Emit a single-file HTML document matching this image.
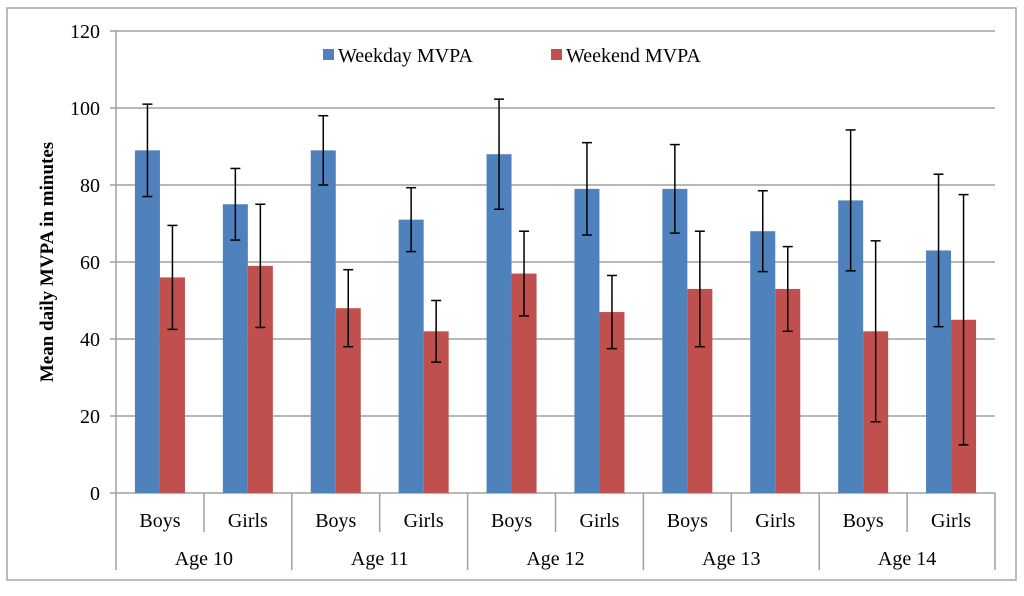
<!DOCTYPE html>
<html><head><meta charset="utf-8"><style>
body{margin:0;background:#fff}
svg text{font-family:"Liberation Serif","Times New Roman",serif;fill:#000}
</style></head><body>
<svg id="c" width="1024" height="591" xmlns="http://www.w3.org/2000/svg">
<rect x="7" y="8" width="1009" height="572" fill="#fff" stroke="#a6a6a6" stroke-width="1.5"/>
<g id="grid"></g><g id="bars"></g><g id="axes"></g>
<text x="53" y="262" font-size="19" font-weight="bold" text-anchor="middle" transform="rotate(-90 53 262)">Mean daily MVPA in minutes</text>
<g>
<rect x="323" y="49" width="11" height="11" fill="#4f81bd"/>
<text x="338" y="62" font-size="20">Weekday MVPA</text>
<rect x="551" y="49" width="11" height="11" fill="#c0504d"/>
<text x="566" y="62" font-size="20">Weekend MVPA</text>
</g>
</svg>
<script>
const sexes=["Boys","Girls","Boys","Girls","Boys","Girls","Boys","Girls","Boys","Girls"];
const ages=["Age 10","Age 11","Age 12","Age 13","Age 14"];
const weekday=[89,75,89,71,88,79,79,68,76,63];
const weekdayErr=[12,9.3,9,8.3,14.3,12,11.5,10.5,18.3,19.8];
const weekend=[56,59,48,42,57,47,53,53,42,45];
const weekendErr=[13.5,16,10,8,11,9.5,15,11,23.5,32.5];
const yTicks=[0,20,40,60,80,100,120];
const X0=116,X1=995,Y0=493,Y1=31,ns="http://www.w3.org/2000/svg";
const gw=(X1-X0)/sexes.length,bw=25;
const y=v=>Y0-(v/120)*(Y0-Y1);
function mk(t,a,p){const e=document.createElementNS(ns,t);for(const k in a)e.setAttribute(k,a[k]);p.appendChild(e);return e;}
const G=document.getElementById('grid'),B=document.getElementById('bars'),A=document.getElementById('axes');
yTicks.forEach(v=>{
 const l=mk('line',{x1:110,x2:X1,y1:y(v),y2:y(v),stroke:'#a0a0a0','stroke-width':1.5},G);
 
 
 const t=mk('text',{x:100,y:y(v)+7,'font-size':20,'text-anchor':'end'},A);t.textContent=v;
 
 
});
const ax=mk('line',{x1:X0,x2:X0,y1:Y1,y2:570,stroke:'#a0a0a0','stroke-width':1.5},A);


function bar(i,v,e,off,col,nm){
 const x=X0+gw*i+gw/2+off;
 const r=mk('rect',{x:x,y:y(v),width:bw,height:Y0-y(v),fill:col},B);
 
 
 const cx=x+bw/2,g=mk('g',{stroke:'#000','stroke-width':1.5},B);
 
 
 mk('line',{x1:cx,x2:cx,y1:y(v+e),y2:y(v-e)},g);
 mk('line',{x1:cx-5,x2:cx+5,y1:y(v+e),y2:y(v+e)},g);
 mk('line',{x1:cx-5,x2:cx+5,y1:y(v-e),y2:y(v-e)},g);
}
sexes.forEach((s,i)=>{
 bar(i,weekday[i],weekdayErr[i],-bw,'#4f81bd','weekday');
 bar(i,weekend[i],weekendErr[i],0,'#c0504d','weekend');
 const t=mk('text',{x:X0+gw*i+gw/2,y:527,'font-size':20,'text-anchor':'middle'},A);t.textContent=s;
 
 
 const xl=X0+gw*(i+1);
 const l=mk('line',{x1:xl,x2:xl,y1:Y0,y2:(i%2==0?532:570),stroke:'#a0a0a0','stroke-width':1.5},A);
 
 
});
ages.forEach((a,j)=>{
 const t=mk('text',{x:X0+gw*(2*j+1),y:565,'font-size':20,'text-anchor':'middle'},A);t.textContent=a;
 
 
});
</script>
</body></html>
